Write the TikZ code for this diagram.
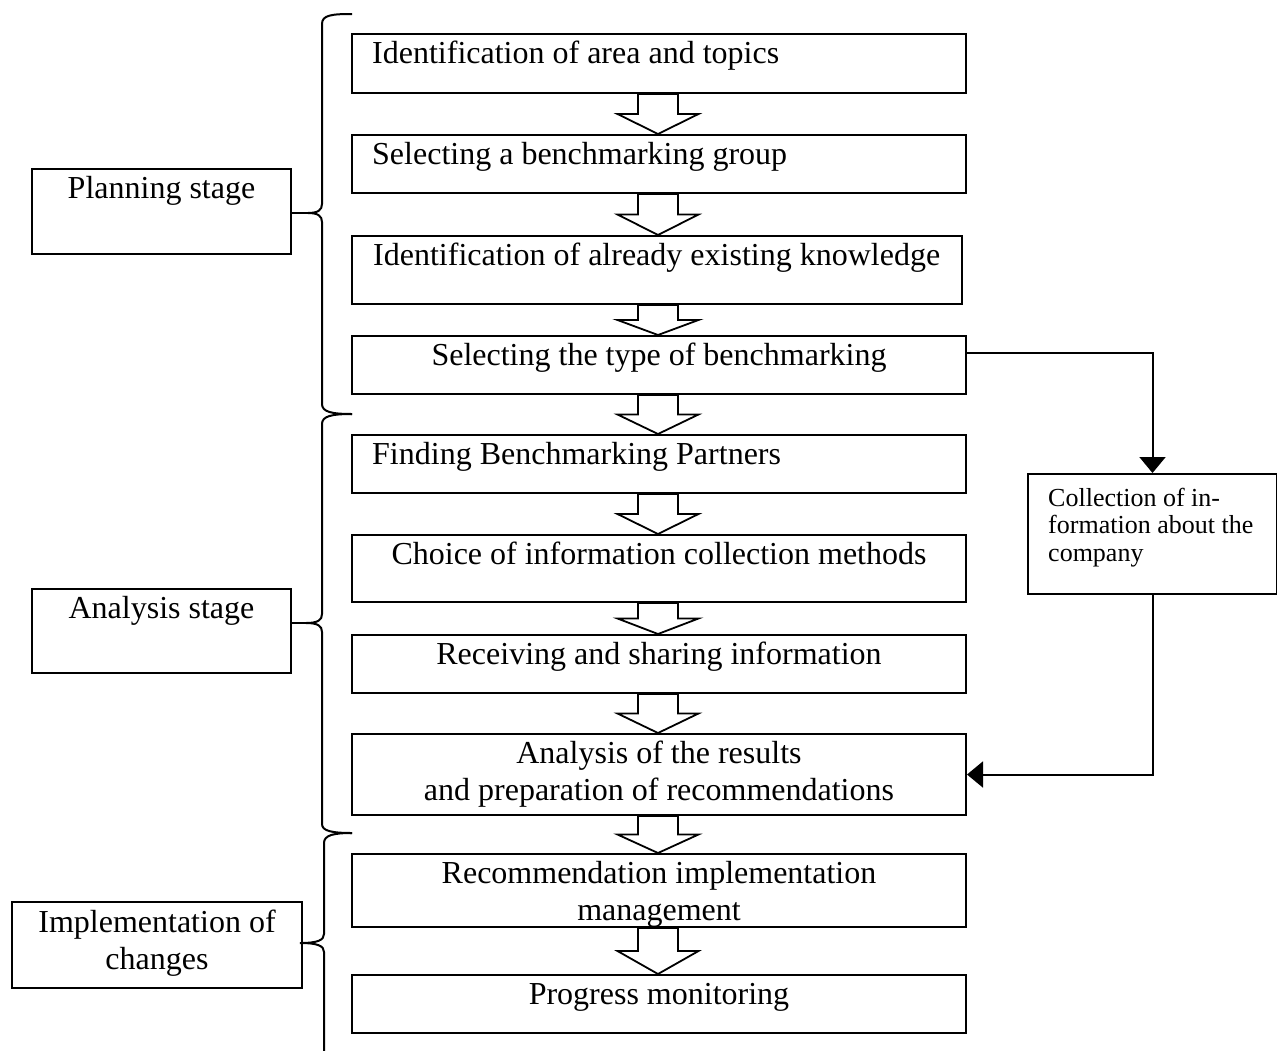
\documentclass[tikz,border=0pt]{standalone}
\usepackage{fontspec}
\setmainfont{Liberation Serif}
\usetikzlibrary{arrows.meta,calc}
\begin{document}
\begin{tikzpicture}[x=1pt,y=-1pt,
  box/.style={draw,line width=2pt,inner sep=0pt,anchor=north west},
  txt/.style={inner sep=0pt,font=\fontsize{32}{37}\selectfont},
  smalltxt/.style={inner sep=0pt,font=\fontsize{26}{27.5}\selectfont,align=left,anchor=north west},
  barrow/.style={draw,fill=white,line width=1.8pt,line join=miter},
  conn/.style={draw,line width=2pt,-{Triangle[length=16pt,width=26pt]}},
  brace/.style={draw,line width=2pt}]
\useasboundingbox[fill=white] (0,0) rectangle (1277,1050);
\coordinate (ax) at (658,0);

% main boxes
\node[box,minimum width=614pt,minimum height=59pt] (b1) at (351,33) {};
\node[box,minimum width=614pt,minimum height=58pt] (b2) at (351,134) {};
\node[box,minimum width=610pt,minimum height=68pt] (b3) at (351,235) {};
\node[box,minimum width=614pt,minimum height=58pt] (b4) at (351,335) {};
\node[box,minimum width=614pt,minimum height=58pt] (b5) at (351,434) {};
\node[box,minimum width=614pt,minimum height=67pt] (b6) at (351,534) {};
\node[box,minimum width=614pt,minimum height=58pt] (b7) at (351,634) {};
\node[box,minimum width=614pt,minimum height=81pt] (b8) at (351,733) {};
\node[box,minimum width=614pt,minimum height=73pt] (b9) at (351,853) {};
\node[box,minimum width=614pt,minimum height=58pt] (b10) at (351,974) {};

% stage boxes
\node[box,minimum width=259pt,minimum height=85pt] (plan) at (31,168) {};
\node[box,minimum width=259pt,minimum height=84pt] (anal) at (31,588) {};
\node[box,minimum width=290pt,minimum height=86pt] (impl) at (11,901) {};

% side box
\node[box,minimum width=249pt,minimum height=120pt] (info) at (1027,473) {};

% block arrows
\foreach \a/\b in {b1/b2,b2/b3,b3/b4,b4/b5,b5/b6,b6/b7,b7/b8,b8/b9,b9/b10}{
  \path (\a.south -| ax) coordinate (s) (\b.north -| ax) coordinate (e)
        ($(s)!0.5!(e)$) coordinate (m);
  \draw[barrow] ($(s)+(-20,0)$) -- ($(s)+(20,0)$) -- ($(m)+(20,0)$) -- ($(m)+(40.5,0)$)
     -- (e) -- ($(m)+(-40.5,0)$) -- ($(m)+(-20,0)$) -- cycle;
}

% texts
\node[txt,anchor=north west] (t1) at ($(b1.north west)+(21,4)$) {\strut Identification of area and topics};
\node[txt,anchor=north west] (t2) at ($(b2.north west)+(21,4)$) {\strut Selecting a benchmarking group};
\node[txt,anchor=north west] (t3) at ($(b3.north west)+(22,4)$) {\strut Identification of already existing knowledge};
\node[txt,anchor=north] (t4) at ($(b4.north)+(0,4)$) {\strut Selecting the type of benchmarking};
\node[txt,anchor=north west] (t5) at ($(b5.north west)+(21,4)$) {\strut Finding Benchmarking Partners};
\node[txt,anchor=north] (t6) at ($(b6.north)+(0,4)$) {\strut Choice of information collection methods};
\node[txt,anchor=north] (t7) at ($(b7.north)+(0,4)$) {\strut Receiving and sharing information};
\node[txt,anchor=north,align=center] (t8) at ($(b8.north)+(0,4)$) {\strut Analysis of the results\\and preparation of recommendations};
\node[txt,anchor=north,align=center] (t9) at ($(b9.north)+(0,4)$) {\strut Recommendation implementation\\management};
\node[txt,anchor=north] (t10) at ($(b10.north)+(0,4)$) {\strut Progress monitoring};

\node[txt,anchor=north] (tp) at ($(plan.north)+(0,4)$) {\strut Planning stage};
\node[txt,anchor=north] (ta) at ($(anal.north)+(0,4)$) {\strut Analysis stage};
\node[txt,anchor=north,align=center] (ti) at ($(impl.north)+(0,5)$) {\strut Implementation of\\changes};

\node[smalltxt] (tinfo) at ($(info.north west)+(21,14)$) {\strut Collection of in-\\formation about the\\company};

% connectors
\coordinate (k1) at ($(b4.north east)+(0,18)$);
\draw[conn] (k1) -| (info.north);
\draw[conn] (info.south) |- (b8.east);

% braces
\coordinate (tip1) at (308,213);
\coordinate (tip2) at (306,623);
\coordinate (tip3) at (300,943);
\draw[brace] (352,14) .. controls (332,14) and (322,15) .. (322,24) -- (322,204)
  .. controls (322,210) and (318,213) .. (tip1)
  .. controls (318,213) and (322,216) .. (322,222) -- (322,404)
  .. controls (322,412) and (332,414) .. (352,414);
\draw[brace] (352,414) .. controls (332,414) and (322,416) .. (322,424) -- (322,614)
  .. controls (322,620) and (318,623) .. (tip2)
  .. controls (318,623) and (322,626) .. (322,632) -- (322,824)
  .. controls (322,831) and (332,833) .. (352,833);
\draw[brace] (352,833) .. controls (334,833) and (324,835) .. (324,843) -- (324,934)
  .. controls (324,940) and (318,943) .. (tip3)
  .. controls (318,943) and (324,946) .. (324,952) -- (324,1052);
\draw[brace] (plan.east |- tip1) -- (tip1);
\draw[brace] (anal.east |- tip2) -- (tip2);
\draw[brace] (impl.east |- tip3) -- (tip3);
\end{tikzpicture}
\end{document}
